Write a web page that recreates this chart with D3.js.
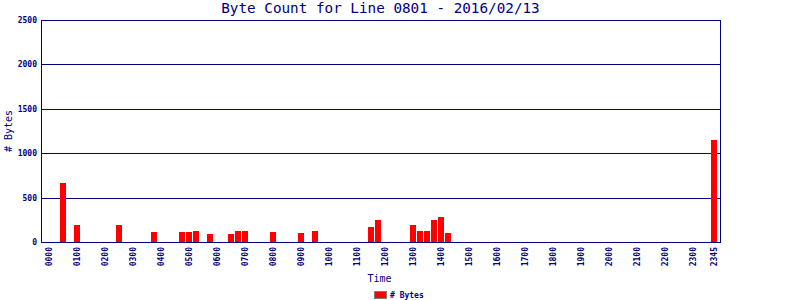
<!DOCTYPE html>
<html>
<head>
<meta charset="utf-8">
<script src="https://cdn.jsdelivr.net/npm/d3@7"></script>
<style>
  body { margin: 0; background: #fff; }
  svg text { font-family: "DejaVu Sans Mono", monospace; fill: #000080; }
</style>
</head>
<body>
<svg></svg>
<script>
// Chart data
const title = "Byte Count for Line 0801 - 2016/02/13";
const barTimes = ["0030", "0100", "0230", "0345", "0445", "0500", "0515", "0545", "0630", "0645", "0700",
    "0800", "0900", "0930", "1130", "1145", "1300", "1315", "1330", "1345", "1400", "1415", "2345"];
const barBytes = [665, 190, 190, 113, 113, 113, 124, 90, 90, 124, 124,
    113, 101, 124, 169, 248, 191, 124, 124, 248, 281, 101, 1150];
const tickLabels = ["0000", "0100", "0200", "0300", "0400", "0500", "0600", "0700", "0800", "0900",
    "1000", "1100", "1200", "1300", "1400", "1500", "1600", "1700", "1800", "1900",
    "2000", "2100", "2200", "2300", "2345"];
const yTicks = [0, 500, 1000, 1500, 2000, 2500];

// 15-minute slots for the whole day
const slots = [];
for (let h = 0; h < 24; h++) {
    ["00", "15", "30", "45"].forEach(m => slots.push(String(h).padStart(2, "0") + m));
}

const width = 800, height = 300;
const plotLeft = 41, plotRight = 720, plotTop = 20, plotBottom = 242;
const navy = "#000080";

const svg = d3.select("svg")
    .attr("width", width)
    .attr("height", height);

// Scales
const xScale = d3.scaleBand()
    .domain(slots)
    .range([45.5, 717.5])
    .paddingInner(1 / 7)
    .paddingOuter(1 / 14);

const yScale = d3.scaleLinear()
    .domain([0, 2500])
    .range([plotBottom, plotTop]);

// Grid lines
svg.append("g")
    .selectAll("line")
    .data(yTicks)
    .enter()
    .append("line")
    .attr("x1", plotLeft)
    .attr("x2", plotRight)
    .attr("y1", d => Math.round(yScale(d)) + 0.5)
    .attr("y2", d => Math.round(yScale(d)) + 0.5)
    .attr("stroke", navy)
    .attr("stroke-width", 1);

// Bars
const data = barTimes.map((t, i) => ({ time: t, bytes: barBytes[i] }));
svg.append("g")
    .selectAll("rect")
    .data(data)
    .enter()
    .append("rect")
    .attr("x", d => Math.round(xScale(d.time)))
    .attr("y", d => Math.round(yScale(d.bytes)))
    .attr("width", Math.round(xScale.bandwidth()))
    .attr("height", d => Math.round(yScale(0)) - Math.round(yScale(d.bytes)))
    .attr("fill", "#ff0000");

// Frame (left, right, bottom)
svg.append("line")
    .attr("x1", plotLeft + 0.5).attr("x2", plotLeft + 0.5)
    .attr("y1", plotTop).attr("y2", plotBottom + 1)
    .attr("stroke", navy);
svg.append("line")
    .attr("x1", plotRight + 0.5).attr("x2", plotRight + 0.5)
    .attr("y1", plotTop).attr("y2", plotBottom + 1)
    .attr("stroke", navy);
svg.append("line")
    .attr("x1", plotLeft).attr("x2", plotRight + 1)
    .attr("y1", Math.round(yScale(0)) + 0.5).attr("y2", Math.round(yScale(0)) + 0.5)
    .attr("stroke", navy);

// Y axis labels
svg.append("g")
    .selectAll("text")
    .data(yTicks)
    .enter()
    .append("text")
    .attr("x", 37)
    .attr("y", d => yScale(d) + 3)
    .attr("text-anchor", "end")
    .attr("font-size", 8)
    .attr("font-weight", "bold")
    .text(d => d);

// X axis labels (rotated)
svg.append("g")
    .selectAll("text")
    .data(tickLabels)
    .enter()
    .append("text")
    .attr("transform", d => `translate(${xScale(d) + xScale.bandwidth() / 2 + 3}, 247) rotate(-90)`)
    .attr("text-anchor", "end")
    .attr("font-size", 8)
    .attr("font-weight", "bold")
    .text(d => d);

// Title
svg.append("text")
    .attr("x", (plotLeft + plotRight) / 2)
    .attr("y", 13)
    .attr("text-anchor", "middle")
    .attr("font-size", 14.3)
    .text(title);

// Axis titles
svg.append("text")
    .attr("x", (plotLeft + plotRight) / 2 - 1)
    .attr("y", 282)
    .attr("text-anchor", "middle")
    .attr("font-size", 10)
    .text("Time");

svg.append("text")
    .attr("transform", `translate(12, ${(plotTop + plotBottom) / 2}) rotate(-90)`)
    .attr("text-anchor", "middle")
    .attr("font-size", 10)
    .text("# Bytes");

// Legend
svg.append("rect")
    .attr("x", 374.5).attr("y", 291.5)
    .attr("width", 12).attr("height", 7)
    .attr("fill", "#ff0000")
    .attr("stroke", "#808080");
svg.append("text")
    .attr("x", 390)
    .attr("y", 298)
    .attr("font-size", 8)
    .attr("font-weight", "bold")
    .text("# Bytes");
</script>
</body>
</html>
